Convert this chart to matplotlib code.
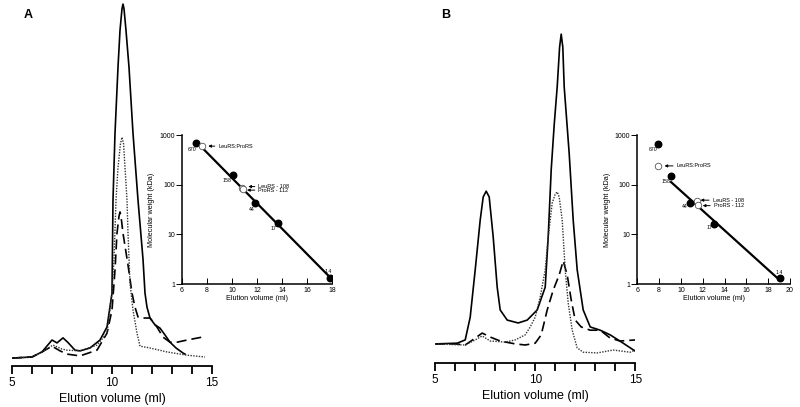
import numpy as np
import matplotlib
matplotlib.use('Agg')
import matplotlib.pyplot as plt

plt.rcParams['font.family'] = ['Liberation Sans', 'DejaVu Sans']

# ---------------- panel A: gel filtration traces (ml, A280 arbitrary units)
a_solid_vol = [5.0, 6.0, 6.5, 7.0, 7.25, 7.55, 7.8, 8.15, 8.4, 8.9, 9.4, 9.75, 10.0, 10.05, 10.15,
               10.3, 10.4, 10.5, 10.55, 10.6, 10.7, 10.85, 11.05, 11.3, 11.55, 11.65, 11.75, 11.9, 12.15,
               12.4, 12.65, 12.9, 13.2, 13.55, 13.65]
a_solid_abs = [2.2, 2.5, 3.9, 7.2, 6.4, 7.8, 6.5, 4.4, 4.2, 5.0, 7.2, 10.8, 20.2, 46.0, 64.5,
               82.8, 93.0, 99.0, 100.3, 99.0, 93.0, 82.8, 64.5, 46.0, 29.6, 20.2, 16.3, 13.3, 11.4,
               10.5, 8.6, 6.6, 5.0, 3.6, 3.3]

a_dash_vol = [5.0, 6.0, 6.5, 7.0, 7.4, 7.75, 8.4, 9.25, 9.75, 10.0, 10.15, 10.25, 10.35, 10.4, 10.45,
              10.55, 10.8, 11.0, 11.15, 11.3, 11.55, 11.9, 12.25, 12.55, 12.9, 13.25, 13.75, 14.5]
a_dash_abs = [2.2, 2.5, 3.9, 5.5, 4.2, 3.3, 2.8, 4.4, 9.1, 15.5, 26.6, 36.8, 41.5, 42.7, 41.5,
              36.8, 28.0, 20.2, 16.3, 13.6, 13.3, 13.3, 10.8, 8.0, 6.6, 6.6, 7.2, 8.0]

a_dot_vol = [5.0, 6.0, 6.5, 7.05, 7.5, 7.75, 8.4, 9.25, 9.75, 10.0, 10.1, 10.2, 10.3, 10.42, 10.5,
             10.58, 10.65, 10.75, 10.8, 10.9, 11.05, 11.25, 11.4, 11.9, 12.75, 13.75, 14.65]
a_dot_abs = [2.2, 2.5, 3.9, 5.8, 4.7, 4.4, 4.2, 5.8, 9.1, 20.2, 29.6, 46.0, 55.0, 61.5, 63.4,
             61.5, 55.0, 46.0, 36.8, 23.0, 15.5, 9.1, 5.5, 5.0, 3.9, 3.0, 2.5]

# ---------------- panel B
b_solid_vol = [5.0, 6.1, 6.5, 6.75, 7.0, 7.25, 7.4, 7.55, 7.7, 7.9, 8.1, 8.25, 8.6, 9.15, 9.6,
               10.1, 10.5, 10.65, 10.8, 10.95, 11.1, 11.22, 11.3, 11.38, 11.45, 11.7, 11.9, 12.1,
               12.4, 12.75, 13.25, 13.75, 14.4, 15.0]
b_solid_abs = [5.3, 5.5, 6.4, 12.7, 25.8, 39.6, 46.0, 47.6, 46.0, 34.9, 21.0, 14.7, 11.9, 11.1, 11.9,
               14.7, 21.0, 34.9, 53.5, 66.0, 76.5, 87.5, 91.1, 87.5, 76.5, 58.0, 39.6, 25.8,
               14.7, 10.0, 9.1, 7.8, 5.5, 3.3]

b_dash_vol = [5.0, 6.0, 6.5, 7.0, 7.35, 7.75, 8.25, 9.0, 9.5, 10.0, 10.3, 10.6, 10.9, 11.2, 11.4,
              11.6, 11.8, 12.0, 12.3, 12.75, 13.25, 13.75, 14.25, 15.0]
b_dash_abs = [5.3, 5.3, 5.0, 6.9, 8.3, 7.2, 6.1, 5.3, 5.0, 5.5, 7.8, 14.7, 20.2, 24.4, 28.3,
              24.4, 17.5, 11.9, 10.0, 9.1, 9.1, 6.9, 6.1, 6.4]

b_dot_vol = [5.0, 6.5, 7.0, 7.35, 7.75, 8.5, 9.0, 9.5, 9.75, 10.0, 10.25, 10.5, 10.65, 10.75, 10.85,
             11.0, 11.1, 11.2, 11.35, 11.5, 11.65, 11.85, 12.1, 12.4, 13.1, 13.9, 14.75, 15.0]
b_dot_abs = [5.3, 5.0, 6.4, 7.5, 6.1, 5.8, 6.4, 7.8, 10.0, 12.7, 18.3, 25.8, 34.9, 39.6, 44.3,
             46.8, 47.4, 46.0, 39.6, 25.8, 16.6, 9.1, 4.2, 3.0, 2.8, 3.6, 3.0, 3.6]

# ---------------- calibration insets (elution ml, kDa)
std_a_vol = [7.1, 10.1, 11.8, 13.7, 17.8]
std_b_vol = [7.9, 9.1, 10.8, 13.0, 19.1]
std_a_kda = [690, 155, 42, 16.7, 1.35]
std_b_kda = [660, 150, 42, 16.3, 1.3]
std_names = ['670', '158', '44', '17', '1.4']

open_a_vol = [7.6, 10.8, 10.9]
open_a_kda = [600, 88, 82]
open_b_vol = [7.9, 11.5, 11.6]
open_b_kda = [240, 47, 40]
open_names = ['LeuRS:ProRS', 'LeuRS - 108', 'ProRS - 112']

fig = plt.figure(figsize=(8, 4.07), dpi=100)


def chromatogram(rect, solid, dash, dot, ytop, letter, upticks):
    ax = fig.add_axes(rect)
    ax.plot(solid[0], solid[1], c='k', lw=1.2)
    ax.plot(dash[0], dash[1], c='k', lw=1.2, ls=(0, (6, 3)))
    ax.plot(dot[0], dot[1], c='#333333', lw=1.0, ls=(0, (1, 1)))
    ax.set_xlim(5, 15)
    ax.set_ylim(0, ytop)
    for s in ['left', 'top', 'right']:
        ax.spines[s].set_visible(False)
    ax.spines['bottom'].set_linewidth(1.3)
    ax.set_yticks([])
    ax.set_xticks(range(5, 16))
    ax.set_xticklabels([str(v) if v % 5 == 0 else '' for v in range(5, 16)])
    ax.tick_params(axis='x', direction='out', length=6, width=1.3, labelsize=8.5, pad=2)
    if upticks:
        ax.set_xticks(upticks, minor=True)
        ax.tick_params(axis='x', which='minor', direction='in', length=5, width=1.3)
    ax.set_xlabel('Elution volume (ml)', fontsize=9, labelpad=3)
    ax.patch.set_alpha(0)
    fig.text(rect[0] + 0.02 if letter == 'A' else rect[0] + 0.0125, 0.963, letter,
             fontsize=9, fontweight='bold', ha='center', va='center')
    return ax


chromatogram([0.015, 0.1007, 0.25, 0.899], (a_solid_vol, a_solid_abs), (a_dash_vol, a_dash_abs),
             (a_dot_vol, a_dot_abs), 101.4, 'A', None)
chromatogram([0.544, 0.108, 0.25, 0.892], (b_solid_vol, b_solid_abs), (b_dash_vol, b_dash_abs),
             (b_dot_vol, b_dot_abs), 100.55, 'B', [13, 14, 15])


def calibration(rect, xmax, vol, kda, ovol, okda, fit_from, line_x, num_pos, arrow_pos):
    ax = fig.add_axes(rect)
    ax.set_yscale('log')
    # fit through standards on log scale
    p = np.polyfit(vol[fit_from:], np.log10(kda[fit_from:]), 1)
    xs = np.array(line_x)
    ax.plot(xs, 10 ** np.polyval(p, xs), c='k', lw=1.6, zorder=2)
    ax.scatter(vol, kda, s=22, c='k', zorder=3)
    ax.scatter(ovol, okda, s=22, facecolors='white', edgecolors='#555555', linewidths=0.6, zorder=4)
    for name, (tx, ty) in zip(std_names, num_pos):
        ax.text(tx, ty, name, fontsize=3.8, ha='center', va='center')
    for name, (hx, hy, tx) in zip(open_names, arrow_pos):
        ax.annotate(name, xy=(hx, hy), xytext=(tx, hy), fontsize=4, va='center', ha='left',
                    arrowprops=dict(arrowstyle='-|>', lw=0.7, color='k', mutation_scale=4,
                                    shrinkA=0.5, shrinkB=0))
    ax.set_xlim(6, xmax)
    ax.set_ylim(1, 1000)
    ax.set_xticks(range(6, xmax + 1, 2))
    ax.set_yticks([1, 10, 100, 1000])
    ax.set_yticklabels(['1', '10', '100', '1000'])
    ax.minorticks_off()
    ax.spines['top'].set_visible(False)
    ax.spines['right'].set_visible(False)
    ax.spines['left'].set_linewidth(1.1)
    ax.spines['bottom'].set_linewidth(1.1)
    ax.tick_params(axis='x', direction='in', length=4, width=0.7, labelsize=5, pad=2)
    ax.tick_params(axis='y', direction='out', length=4, width=0.7, labelsize=5, pad=1)
    ax.set_xlabel('Elution volume (ml)', fontsize=5.2, labelpad=1)
    ax.set_ylabel('Molecular weight (kDa)', fontsize=5.2, labelpad=3)
    ax.patch.set_alpha(0)
    return ax


calibration([0.2275, 0.302, 0.1875, 0.366], 18, std_a_vol, std_a_kda, open_a_vol, open_a_kda, 0,
            [open_a_vol[0] + 0.15, std_a_vol[-1]],
            [(6.85, 520), (9.6, 124), (11.55, 32), (13.3, 13.3), (17.7, 1.8)],
            [(8.1, 600, 8.9), (11.3, 92, 12.1), (11.2, 78, 12.1)])
calibration([0.7965, 0.302, 0.191, 0.366], 20, std_b_vol, std_b_kda, open_b_vol, open_b_kda, 1,
            [std_b_vol[1], std_b_vol[-1]],
            [(7.5, 520), (8.6, 118), (10.4, 36), (12.6, 13.5), (19.0, 1.75)],
            [(8.5, 240, 9.6), (11.8, 49, 12.9), (12.0, 38, 13.0)])

plt.savefig('out.png', dpi=100)
